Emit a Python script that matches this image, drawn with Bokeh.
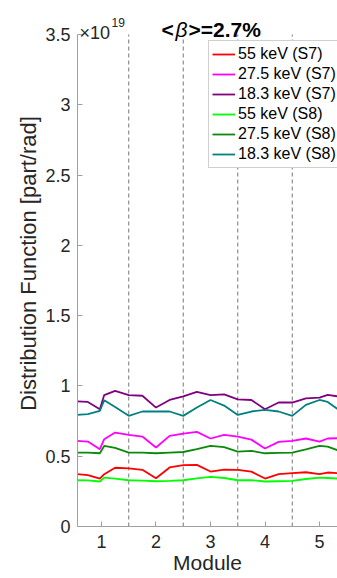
from bokeh.plotting import figure
from bokeh.models import Label, Legend, LegendItem, FixedTicker
from bokeh.embed import file_html
from bokeh.resources import INLINE

# Module position
module = [0.55, 0.75, 0.97, 1.05, 1.25, 1.5, 1.75, 2.0, 2.25, 2.5, 2.75, 3.0,
          3.25, 3.5, 3.75, 4.0, 4.25, 4.5, 4.75, 5.0, 5.15, 5.35]

# Distribution function, units of 1e19 part/rad
s7_55 = [0.372, 0.365, 0.341, 0.372, 0.418, 0.413, 0.403, 0.343, 0.42, 0.436, 0.438, 0.391,
         0.405, 0.403, 0.39, 0.341, 0.372, 0.379, 0.386, 0.372, 0.384, 0.379]
s7_275 = [0.609, 0.604, 0.55, 0.621, 0.668, 0.652, 0.64, 0.562, 0.645, 0.661, 0.673, 0.626,
          0.652, 0.64, 0.618, 0.555, 0.602, 0.609, 0.626, 0.604, 0.626, 0.628]
s7_183 = [0.89, 0.886, 0.834, 0.935, 0.965, 0.934, 0.93, 0.846, 0.90, 0.925, 0.957, 0.934,
          0.94, 0.905, 0.90, 0.834, 0.882, 0.882, 0.912, 0.917, 0.937, 0.925]
s8_55 = [0.329, 0.328, 0.32, 0.348, 0.34, 0.329, 0.326, 0.322, 0.324, 0.329, 0.342, 0.353,
         0.345, 0.329, 0.33, 0.32, 0.322, 0.324, 0.338, 0.348, 0.345, 0.341]
s8_275 = [0.526, 0.526, 0.521, 0.573, 0.56, 0.526, 0.526, 0.521, 0.526, 0.53, 0.55, 0.573,
          0.565, 0.533, 0.538, 0.521, 0.524, 0.526, 0.548, 0.573, 0.568, 0.54]
s8_183 = [0.794, 0.80, 0.822, 0.898, 0.85, 0.787, 0.818, 0.818, 0.818, 0.787, 0.846, 0.90,
          0.86, 0.794, 0.818, 0.83, 0.818, 0.787, 0.865, 0.90, 0.886, 0.83]

series_names = ["55 keV (S7)", "27.5 keV (S7)", "18.3 keV (S7)",
                "55 keV (S8)", "27.5 keV (S8)", "18.3 keV (S8)"]
series_vals = [s7_55, s7_275, s7_183, s8_55, s8_275, s8_183]
colors = ["#ff0000", "#ff00ff", "#800080", "#00ff00", "#0a8a0a", "#008080"]

boundaries = [1.5, 2.5, 3.5, 4.5]
yticks = [0, 0.5, 1, 1.5, 2, 2.5, 3, 3.5]
ytick_labels = ["0", "0.5", "1", "1.5", "2", "2.5", "3", "3.5"]
xticks = [1, 2, 3, 4, 5]
y_min, y_max = 0, 3.5

FONT = "Liberation Sans"
TXT = "#262626"

# frame reaches the top of the canvas so the header texts can sit inside it;
# axis line stops at y_max like the original axes box
H, TOP, BOTTOM = 578, 34, 52
frame_h = H - BOTTOM
y_top = y_max * frame_h / (frame_h - TOP)

p = figure(width=337, height=H, x_range=(0.56, 5.33), y_range=(y_min, y_top),
           output_backend="svg", toolbar_location=None,
           min_border_left=77, min_border_right=0, min_border_top=0, min_border_bottom=BOTTOM)
p.outline_line_color = None
p.grid.visible = False
p.background_fill_color = "white"

p.segment(x0=boundaries, y0=[y_min] * len(boundaries), x1=boundaries,
          y1=[y_max] * len(boundaries), line_color="#777777", line_dash="4 3", line_width=1)

items = []
for name, vals, c in zip(series_names, series_vals, colors):
    r = p.line(module, vals, line_color=c, line_width=1.8)
    items.append(LegendItem(label=name, renderers=[r]))

legend = Legend(items=items, location=(131, frame_h - 168), label_text_font=FONT,
                label_text_font_size="16px", label_text_color="black",
                glyph_width=23, glyph_height=20, label_height=20, label_standoff=3,
                spacing=0, padding=3, margin=0, border_line_color="#a0a0a0",
                border_line_width=1, background_fill_alpha=1)
p.add_layout(legend, "center")

for ax in (p.xaxis[0], p.yaxis[0]):
    ax.axis_line_color = "#a0a0a0"
    ax.major_tick_line_color = "#a0a0a0"
    ax.major_tick_in = 5
    ax.major_tick_out = 0
    ax.minor_tick_line_color = None
    ax.major_label_text_font = FONT
    ax.major_label_text_font_size = "18px"
    ax.major_label_text_color = TXT
    ax.axis_label_text_font = FONT
    ax.axis_label_text_color = TXT
    ax.axis_label_text_font_style = "normal"

p.xaxis.axis_label_text_font_size = "21px"
p.yaxis.axis_label_text_font_size = "22px"
p.yaxis.bounds = (y_min, y_max)
p.xaxis.ticker = FixedTicker(ticks=xticks)
p.yaxis.ticker = FixedTicker(ticks=yticks)
p.yaxis.major_label_overrides = {t: l for t, l in zip(yticks, ytick_labels)}
p.xaxis.major_label_standoff = 8
p.yaxis.major_label_standoff = 7
p.xaxis.axis_label = "Module"
p.yaxis.axis_label = "Distribution Function [part/rad]"
p.xaxis.axis_label_standoff = 0
p.yaxis.axis_label_standoff = 1

def top_label(x, y_from_top, text, size, style="normal", color="black"):
    p.add_layout(Label(x=x, y=frame_h - y_from_top, x_units="screen", y_units="screen",
                       text=text, text_font=FONT, text_font_size=size,
                       text_font_style=style, text_color=color,
                       text_baseline="alphabetic"))

top_label(84, 29, "<", "21px", "bold")
top_label(98, 29, "β", "21px", "italic")
top_label(111, 29, ">=2.7%", "21px", "bold")
top_label(2, 32, "×10", "18px", color=TXT)
top_label(34, 22, "19", "12px", color=TXT)

open("out.html", "w").write(file_html(p, INLINE))
